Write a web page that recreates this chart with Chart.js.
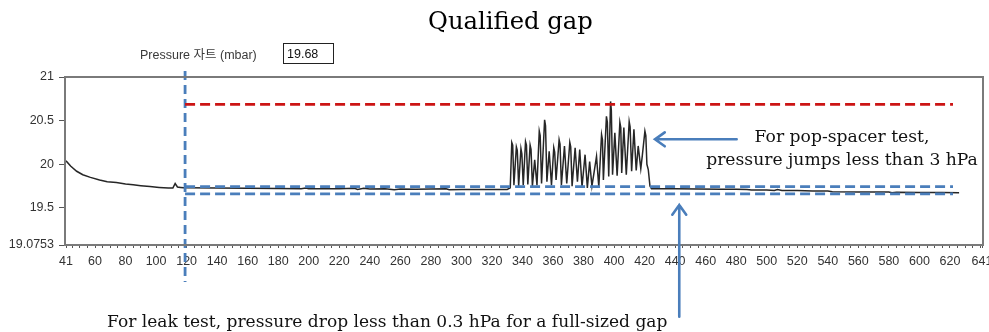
<!DOCTYPE html>
<html>
<head>
<meta charset="utf-8">
<script src="https://cdn.jsdelivr.net/npm/chart.js@4.4.1/dist/chart.umd.min.js"></script>
<style>
  body { margin: 0; background: #fff; }
  canvas { display: block; }
</style>
</head>
<body>
<canvas id="chart" width="989" height="332"></canvas>
<script>
// pressure trace (time, mbar)
const timeX = [
  41, 44, 48, 52, 57, 63, 68, 74, 80, 85, 90, 96, 102, 108, 111, 112.5, 114, 116, 118,
  120, 140, 160, 180, 195, 198, 200, 220, 230, 232, 236, 240, 250, 256, 260, 270, 280, 290, 292, 300, 320, 330,
  332, 333, 333.6, 334.4, 336, 336.6, 337.5, 339, 339.6, 340.5, 342, 342.6, 343.5, 345, 345.6, 346.5, 348, 349.5,
  351, 351.6, 352.5, 354.5, 355.1, 356, 357.5, 359, 360.5, 361.1, 362, 364, 364.6, 365.5, 367.5, 369, 371, 371.6,
  372.5, 374.5, 376, 377.5, 379, 381, 382.5, 384, 385.5, 387, 388.5, 390, 391.8, 392.4, 393, 395, 395.6, 396.5,
  397.7, 398.2, 399, 400.5, 402, 403.8, 404.4, 405, 406.4, 408, 409.9, 410.5, 411.5, 413, 414.5, 415.8, 417.5,
  418.5, 420.2, 420.8, 421.5, 422.4, 423.5, 424.5,
  426, 440, 455, 470, 480, 487, 490, 500, 505, 507, 510, 520, 530, 540, 543, 560, 580, 582, 585, 600, 615, 626
];
const pressureY = [
  20.04, 19.98, 19.92, 19.88, 19.85, 19.82, 19.80, 19.79, 19.775, 19.765, 19.755, 19.745, 19.735, 19.727, 19.727, 19.78, 19.74, 19.735, 19.73,
  19.73, 19.727, 19.725, 19.722, 19.72, 19.728, 19.72, 19.72, 19.725, 19.712, 19.725, 19.718, 19.72, 19.708, 19.718, 19.715, 19.716, 19.72, 19.708, 19.712, 19.71, 19.712,
  19.73, 20.25, 20.22, 19.76, 20.20, 20.16, 19.75, 20.18, 20.12, 19.76, 20.26, 20.22, 19.77, 20.22, 20.17, 19.75, 20.05, 19.76,
  20.38, 20.33, 19.78, 20.51, 20.44, 19.80, 20.15, 19.76, 20.19, 20.14, 19.82, 20.28, 20.23, 19.76, 20.21, 19.78, 20.25, 20.2,
  19.75, 20.19, 19.80, 20.17, 19.74, 20.11, 19.73, 20.03, 19.75, 19.92, 20.09, 19.74, 20.34, 20.28, 19.82, 20.55, 20.48, 19.86,
  20.72, 20.62, 19.88, 20.36, 19.87, 20.48, 20.42, 19.90, 20.42, 19.88, 20.49, 20.43, 19.92, 20.40, 19.93, 20.21, 19.95,
  20.10, 20.38, 20.33, 20.00, 19.94, 19.75, 19.72,
  19.72, 19.72, 19.718, 19.715, 19.715, 19.71, 19.705, 19.705, 19.70, 19.71, 19.70, 19.70, 19.695, 19.693, 19.685, 19.683, 19.682, 19.675, 19.68, 19.677, 19.676, 19.675
];

const xTickLabels = [41, 60, 80, 100, 120, 140, 160, 180, 200, 220, 240, 260, 280, 300, 320, 340, 360,
  380, 400, 420, 440, 460, 480, 500, 520, 540, 560, 580, 600, 620, 641];
const yTickLabels = [19.0753, 19.5, 20, 20.5, 21];

// limit lines
const popLimit = 20.686;
const leakUpper = 19.744;
const leakLower = 19.662;
const limitFrom = 119, limitTo = 622;
const markerX = 119;
const markerRange = [21.07, 18.65];

// arrows, tail -> tip, in data units
const popArrow = [480.3, 20.286, 426.8, 20.286];
const leakArrow = [442.7, 18.254, 442.7, 19.534];

const BLUE = '#4a7ebb';
const RED = '#cc1414';

function fitSize(ctx, text, width, family) {
  ctx.font = '100px ' + family;
  return 100 * width / ctx.measureText(text).width;
}

const extras = {
  id: 'extras',
  afterDraw(chart) {
    const { ctx, chartArea: a, scales: { x, y } } = chart;
    ctx.save();

    // plot frame
    ctx.strokeStyle = '#7a7a7a';
    ctx.lineWidth = 2;
    ctx.strokeRect(a.left - 1, a.top, a.right - a.left + 2, a.bottom - a.top);

    // arrows
    ctx.strokeStyle = BLUE;
    ctx.lineWidth = 2.6;
    ctx.lineCap = 'round';
    [popArrow, leakArrow].forEach(p => {
      const x0 = x.getPixelForValue(p[0]), y0 = y.getPixelForValue(p[1]);
      const x1 = x.getPixelForValue(p[2]), y1 = y.getPixelForValue(p[3]);
      const ang = Math.atan2(y1 - y0, x1 - x0);
      ctx.beginPath();
      ctx.moveTo(x0, y0);
      ctx.lineTo(x1, y1);
      ctx.moveTo(x1 - 12 * Math.cos(ang - 0.62), y1 - 12 * Math.sin(ang - 0.62));
      ctx.lineTo(x1, y1);
      ctx.lineTo(x1 - 12 * Math.cos(ang + 0.62), y1 - 12 * Math.sin(ang + 0.62));
      ctx.stroke();
    });

    // text
    const serif = '"DejaVu Serif", serif';
    ctx.fillStyle = '#000';
    ctx.textBaseline = 'alphabetic';

    let s = fitSize(ctx, 'Qualified gap', 165, serif);
    ctx.font = s + 'px ' + serif;
    ctx.textAlign = 'left';
    ctx.fillText('Qualified gap', 428, 29);

    ctx.fillStyle = '#111';
    const pop = ['For pop-spacer test,', 'pressure jumps less than 3 hPa'];
    s = fitSize(ctx, pop[1], 272, serif);
    ctx.font = s + 'px ' + serif;
    ctx.textAlign = 'center';
    ctx.fillText(pop[0], 842, 142);
    ctx.fillText(pop[1], 842, 165);

    const leak = 'For leak test, pressure drop less than 0.3 hPa for a full-sized gap';
    s = fitSize(ctx, leak, 561, serif);
    ctx.font = s + 'px ' + serif;
    ctx.textAlign = 'left';
    ctx.fillText(leak, 107, 327);

    // readout header
    ctx.fillStyle = '#3a3a3a';
    ctx.font = '12.5px "Liberation Sans", "Noto Sans CJK KR", sans-serif';
    ctx.fillText('Pressure 자트 (mbar)', 140, 59);
    ctx.strokeStyle = '#222';
    ctx.lineWidth = 1;
    ctx.strokeRect(283.5, 43.5, 50, 20);
    ctx.fillStyle = '#111';
    ctx.font = '12.5px "Liberation Sans", sans-serif';
    ctx.fillText('19.68', 287, 58);

    ctx.restore();
  }
};

const limit = (v) => [{ x: limitFrom, y: v }, { x: limitTo, y: v }];

new Chart(document.getElementById('chart'), {
  type: 'line',
  data: {
    datasets: [
      { data: limit(popLimit), borderColor: RED, borderWidth: 2.8, borderDash: [10, 5], order: 1 },
      { data: limit(leakUpper), borderColor: BLUE, borderWidth: 2.8, borderDash: [10, 5], order: 1 },
      { data: limit(leakLower), borderColor: BLUE, borderWidth: 2.8, borderDash: [10, 5], order: 1 },
      { data: markerRange.map(v => ({ x: markerX, y: v })), borderColor: BLUE, borderWidth: 2.8,
        borderDash: [9, 5], clip: false, order: 1 },
      { data: timeX.map((t, i) => ({ x: t, y: pressureY[i] })), borderColor: '#262626',
        borderWidth: 1.5, order: 2 }
    ]
  },
  options: {
    responsive: false,
    animation: false,
    elements: { point: { radius: 0 }, line: { tension: 0 } },
    layout: { padding: { top: 77, right: 7, bottom: 0, left: 0 } },
    plugins: { legend: { display: false }, tooltip: { enabled: false }, title: { display: false } },
    scales: {
      x: {
        type: 'linear', min: 41, max: 641,
        afterBuildTicks: s => {
          const vals = new Set(xTickLabels);
          for (let v = 45; v < 641; v += 5) vals.add(v);
          s.ticks = [...vals].sort((a, b) => a - b).map(v => ({ value: v }));
        },
        afterFit: s => { s.height = 87; s.paddingLeft = 0; s.paddingRight = 0; },
        ticks: {
          autoSkip: false, maxRotation: 0, padding: 6, color: '#333',
          font: { family: '"Liberation Sans", sans-serif', size: 12.5 },
          callback: v => xTickLabels.includes(v) ? String(v) : ''
        },
        grid: { drawOnChartArea: false, tickLength: 3, color: '#555' },
        border: { display: false }
      },
      y: {
        min: 19.0753, max: 21,
        afterBuildTicks: s => { s.ticks = yTickLabels.map(v => ({ value: v })); },
        afterFit: s => { s.width = 66; s.paddingTop = 0; s.paddingBottom = 0; },
        ticks: {
          padding: 5, color: '#333',
          font: { family: '"Liberation Sans", sans-serif', size: 12.5 },
          callback: v => String(v)
        },
        grid: { drawOnChartArea: false, tickLength: 7, color: '#555' },
        border: { display: false }
      }
    }
  },
  plugins: [extras]
});
</script>
</body>
</html>
